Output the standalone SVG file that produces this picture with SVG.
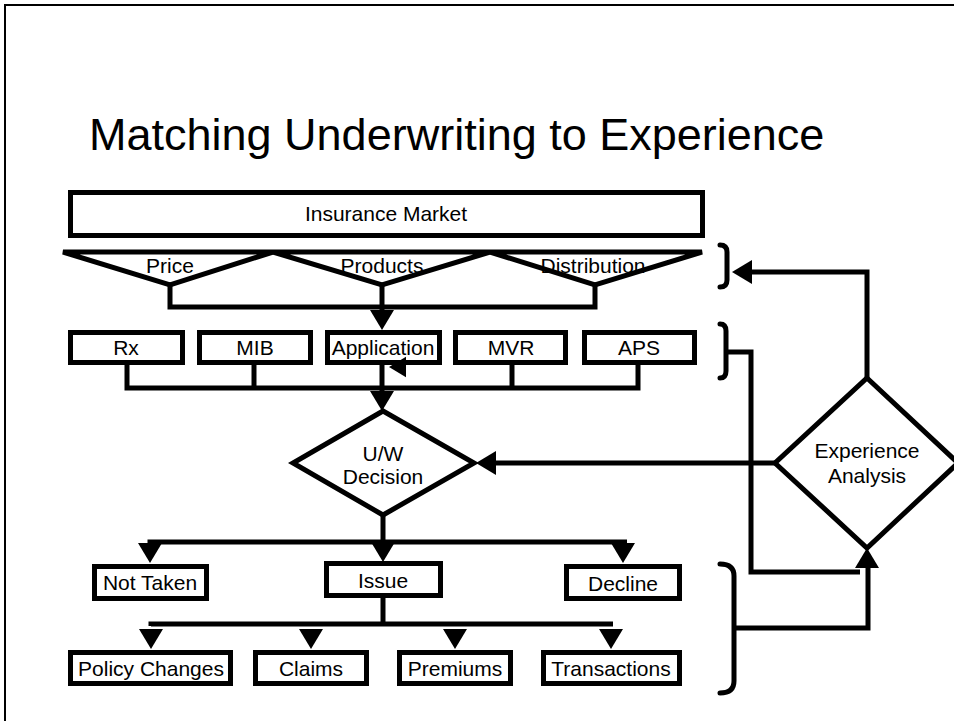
<svg xmlns="http://www.w3.org/2000/svg" xmlns:xlink="http://www.w3.org/1999/xlink" width="954" height="721" viewBox="0 0 954 721">
  <style>
    .box { fill: #fff; stroke: #000; stroke-width: 5; }
    .shape { fill: #fff; stroke: #000; stroke-width: 5; stroke-linejoin: miter; }
    .wire { fill: none; stroke: #000; stroke-width: 5; stroke-linejoin: miter; }
    .brace { fill: none; stroke: #000; stroke-width: 5; stroke-linecap: round; }
    .lbl { font-family: "Liberation Sans", Arial, sans-serif; font-size: 21px; fill: #000; text-anchor: middle; }
    .title { font-family: "Liberation Sans", Arial, sans-serif; font-size: 45px; fill: #000; }
  </style>
  <defs>
    <!-- arrowhead pointing down, tip at the origin -->
    <path id="ah" d="M-12,-20 L12,-20 L0,0 Z" fill="#000"/>
  </defs>

  <rect x="0" y="0" width="954" height="721" fill="#fff"/>
  <!-- slide frame -->
  <rect x="5" y="5" width="980" height="760" fill="none" stroke="#000" stroke-width="2"/>

  <text class="title" x="89" y="150">Matching Underwriting to Experience</text>

  <g id="market">
    <rect class="box" x="70.5" y="192.5" width="632" height="43"/>
    <text class="lbl" x="386" y="221">Insurance Market</text>
  </g>

  <g id="price">
    <polygon class="shape" points="63,252 273,252 170,285"/>
  </g>
  <g id="products">
    <polygon class="shape" points="273,252 490,252 382,285"/>
  </g>
  <g id="distribution">
    <polygon class="shape" points="490,252 702,252 595,285"/>
  </g>

  <g id="rx">
    <rect class="box" x="70.5" y="332.5" width="112" height="30"/>
    <text class="lbl" x="126" y="355">Rx</text>
  </g>
  <g id="mib">
    <rect class="box" x="199.5" y="332.5" width="111" height="30"/>
    <text class="lbl" x="255" y="355">MIB</text>
  </g>
  <g id="application">
    <rect class="box" x="327.5" y="332.5" width="112" height="30"/>
  </g>
  <g id="mvr">
    <rect class="box" x="455.5" y="332.5" width="110" height="30"/>
    <text class="lbl" x="511" y="355">MVR</text>
  </g>
  <g id="aps">
    <rect class="box" x="584.5" y="332.5" width="110" height="30"/>
    <text class="lbl" x="639" y="355">APS</text>
  </g>

  <g id="uw-decision">
    <polygon class="shape" points="383,411 474,463 383,515 293,463"/>
    <text class="lbl" x="383" y="461">U/W</text>
    <text class="lbl" x="383" y="484">Decision</text>
  </g>

  <g id="experience-analysis">
    <polygon class="shape" points="867,378 958,463 867,548 775,463"/>
    <text class="lbl" x="867" y="458">Experience</text>
    <text class="lbl" x="867" y="483">Analysis</text>
  </g>

  <g id="not-taken">
    <rect class="box" x="94.5" y="566.5" width="112" height="32"/>
    <text class="lbl" x="150" y="590">Not Taken</text>
  </g>
  <g id="issue">
    <rect class="box" x="326.5" y="563.5" width="114" height="32"/>
    <text class="lbl" x="383" y="588">Issue</text>
  </g>
  <g id="decline">
    <rect class="box" x="566.5" y="566.5" width="113" height="32"/>
    <text class="lbl" x="623" y="591">Decline</text>
  </g>

  <g id="policy-changes">
    <rect class="box" x="70.5" y="652.5" width="160" height="31"/>
    <text class="lbl" x="151" y="676">Policy Changes</text>
  </g>
  <g id="claims">
    <rect class="box" x="255.5" y="652.5" width="111" height="31"/>
    <text class="lbl" x="311" y="676">Claims</text>
  </g>
  <g id="premiums">
    <rect class="box" x="399.5" y="652.5" width="111" height="31"/>
    <text class="lbl" x="455" y="676">Premiums</text>
  </g>
  <g id="transactions">
    <rect class="box" x="543.5" y="652.5" width="136" height="31"/>
    <text class="lbl" x="611" y="676">Transactions</text>
  </g>

  <g id="connectors">
    <!-- channels to the evidence row -->
    <path class="wire" d="M170,285 V307 H595 V285"/>
    <path class="wire" d="M382,285 V310"/>
    <use xlink:href="#ah" transform="translate(382,330)"/>

    <!-- evidence into the decision -->
    <path class="wire" d="M127,362 V388 H638 V362"/>
    <path class="wire" d="M254,362 V388"/>
    <path class="wire" d="M512,362 V388"/>
    <path class="wire" d="M382,362 V392"/>
    <use xlink:href="#ah" transform="translate(382,411)"/>
    <use xlink:href="#ah" transform="translate(389,367) rotate(90) scale(0.85)"/>

    <!-- decision outcomes -->
    <path class="wire" d="M383,515 V542"/>
    <path class="wire" d="M150,544 V542 H627"/>
    <use xlink:href="#ah" transform="translate(150,563)"/>
    <use xlink:href="#ah" transform="translate(383,562)"/>
    <use xlink:href="#ah" transform="translate(623,563)"/>

    <!-- issued business -->
    <path class="wire" d="M383,596 V624"/>
    <path class="wire" d="M151,626 V624 H613"/>
    <use xlink:href="#ah" transform="translate(151,649)"/>
    <use xlink:href="#ah" transform="translate(311,649)"/>
    <use xlink:href="#ah" transform="translate(455,649)"/>
    <use xlink:href="#ah" transform="translate(611,649)"/>

    <!-- brackets -->
    <path class="brace" d="M720,245 Q727,245 727,252 V280 Q727,287 720,287"/>
    <path class="brace" d="M720,324 Q726,324 726,331 V371 Q726,378 720,378"/>
    <path class="brace" d="M720,564 Q734,564 734,576 V681 Q734,693 720,693"/>

    <!-- feedback loop -->
    <path class="wire" d="M867,378 V272 H750"/>
    <use xlink:href="#ah" transform="translate(732,272) rotate(90)"/>
    <path class="wire" d="M726,352 H751 V572 H860"/>
    <path class="wire" d="M734,628 H868 V566"/>
    <use xlink:href="#ah" transform="translate(867,548) rotate(180)"/>
    <path class="wire" d="M775,463 H493"/>
    <use xlink:href="#ah" transform="translate(476,463) rotate(90)"/>
  </g>

  <!-- channel and box labels drawn above the wires -->
  <text class="lbl" x="170" y="273">Price</text>
  <text class="lbl" x="382" y="273">Products</text>
  <text class="lbl" x="593" y="273">Distribution</text>
  <text class="lbl" x="383" y="355">Application</text>
</svg>
